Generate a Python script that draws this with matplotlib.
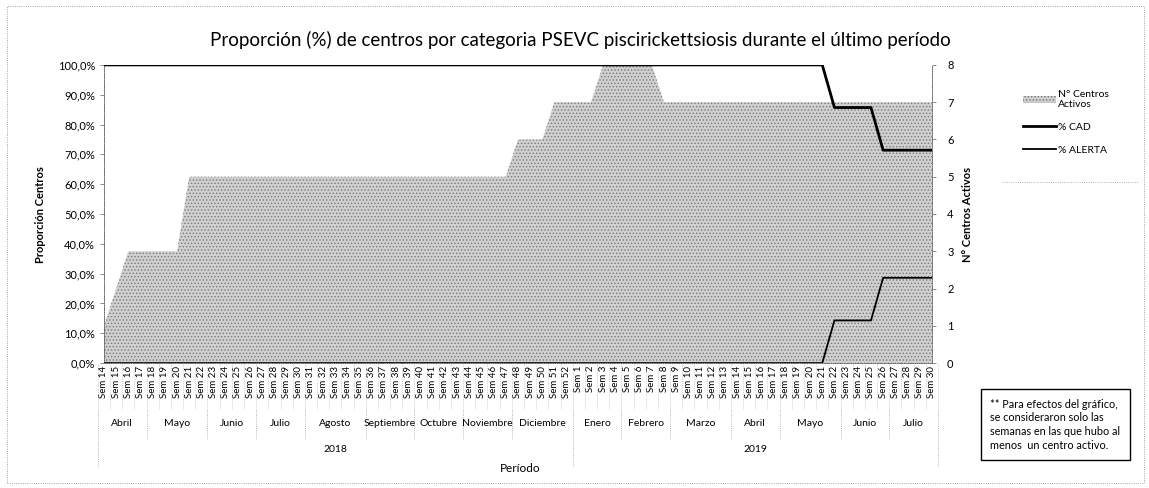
import matplotlib.pyplot as plt
import matplotlib.transforms as mtransforms
from matplotlib.patches import Rectangle, Patch
from matplotlib.lines import Line2D

plt.rcParams['font.family'] = ['Lato', 'DejaVu Sans']
plt.rcParams['hatch.linewidth'] = 0.6

# datos: semanas con al menos un centro activo
semanas_2018 = [14, 15, 16, 17, 18, 19, 20, 21, 22, 23, 24, 25, 26, 27, 28, 29, 30,
                31, 32, 33, 34, 35, 36, 37, 38, 39, 40, 41, 42, 43, 44, 45, 46, 47,
                48, 49, 50, 51, 52]
semanas_2019 = [1, 2, 3, 4, 5, 6, 7, 8, 9, 10, 11, 12, 13, 14, 15, 16, 17, 18, 19,
                20, 21, 22, 23, 24, 25, 26, 27, 28, 29, 30]
meses_2018 = ['Abril', 'Mayo', 'Junio', 'Julio', 'Agosto', 'Septiembre', 'Octubre',
              'Noviembre', 'Diciembre']
semanas_por_mes_2018 = [4, 5, 4, 4, 5, 4, 4, 4, 5]
meses_2019 = ['Enero', 'Febrero', 'Marzo', 'Abril', 'Mayo', 'Junio', 'Julio']
semanas_por_mes_2019 = [4, 4, 5, 4, 5, 4, 4]

centros_activos = [1, 2, 3, 3, 3, 3, 3, 5, 5, 5, 5, 5, 5, 5, 5, 5, 5, 5, 5, 5, 5, 5, 5,
                   5, 5, 5, 5, 5, 5, 5, 5, 5, 5, 5, 6, 6, 6, 7, 7, 7, 7, 8, 8, 8, 8, 8,
                   7, 7, 7, 7, 7, 7, 7, 7, 7, 7, 7, 7, 7, 7, 7, 7, 7, 7, 7, 7, 7, 7, 7]
pct_cad = [100, 100, 100, 100, 100, 100, 100, 100, 100, 100, 100, 100, 100, 100, 100,
           100, 100, 100, 100, 100, 100, 100, 100, 100, 100, 100, 100, 100, 100, 100,
           100, 100, 100, 100, 100, 100, 100, 100, 100, 100, 100, 100, 100, 100, 100,
           100, 100, 100, 100, 100, 100, 100, 100, 100, 100, 100, 100, 100, 100, 100,
           85.7, 85.7, 85.7, 85.7, 71.4, 71.4, 71.4, 71.4, 71.4]
pct_alerta = [0, 0, 0, 0, 0, 0, 0, 0, 0, 0, 0, 0, 0, 0, 0, 0, 0, 0, 0, 0, 0, 0, 0, 0,
              0, 0, 0, 0, 0, 0, 0, 0, 0, 0, 0, 0, 0, 0, 0, 0, 0, 0, 0, 0, 0, 0, 0, 0,
              0, 0, 0, 0, 0, 0, 0, 0, 0, 0, 0, 0,
              14.3, 14.3, 14.3, 14.3, 28.6, 28.6, 28.6, 28.6, 28.6]

etiquetas = [f'Sem {s}' for s in semanas_2018 + semanas_2019]
x = list(range(len(etiquetas)))

fig = plt.figure(figsize=(11.49, 4.88), dpi=100)
ax = fig.add_axes([0.0905, 0.256, 0.7205, 0.611])
ax2 = ax.twinx()

# area de centros activos (eje derecho)
ax2.fill_between(x, centros_activos, 0, facecolor='#d0d0d0', hatch='.....',
                 edgecolor='#777777', linewidth=0)
ax2.set_ylim(0, 8)
ax2.set_yticks(range(0, 9))
ax2.tick_params(axis='y', labelsize=8, length=3, width=0.6, color='#777777', pad=8)

# lineas de proporcion (eje izquierdo) sobre el area
ax.set_zorder(ax2.get_zorder() + 1)
ax.patch.set_visible(False)
ax.plot(x, pct_cad, color='black', linewidth=2.0)
ax.plot(x, pct_alerta, color='black', linewidth=1.3)
ax.set_ylim(0, 100)
ax.set_xlim(0, len(x) - 1)
ax.set_yticks(range(0, 101, 10))
ax.set_yticklabels([f'{v},0%' for v in range(0, 101, 10)])
ax.tick_params(axis='y', labelsize=8, length=3, width=0.6, color='#777777')
ax.set_xticks(x)
ax.set_xticklabels(etiquetas, rotation=90, fontsize=7)
ax.tick_params(axis='x', length=0, pad=2)

for a in (ax, ax2):
    a.spines['top'].set_visible(False)
    for s in ('left', 'right', 'bottom'):
        a.spines[s].set_linewidth(0.6)
        a.spines[s].set_color('#666666')
        a.spines[s].set_linestyle(':')

# eje de categorias multinivel
tr = mtransforms.blended_transform_factory(ax.transData, fig.transFigure)
for i in range(len(x) + 1):
    ax.plot([i - 0.5, i - 0.5], [0.255, 0.16], transform=tr, color='#aaaaaa',
            lw=0.5, ls=':', clip_on=False)

inicio = 0
for meses, cuentas, anio in ((meses_2018, semanas_por_mes_2018, '2018'),
                             (meses_2019, semanas_por_mes_2019, '2019')):
    inicio_anio = inicio
    for mes, n in zip(meses, cuentas):
        fin = inicio + n - 1
        fig.text((inicio + fin) / 2, 0.133, mes, transform=tr, fontsize=7.5,
                 ha='center', va='center')
        ax.plot([fin + 0.5, fin + 0.5], [0.16, 0.1], transform=tr, color='#999999',
                lw=0.6, ls=':', clip_on=False)
        inicio = fin + 1
    fig.text((inicio_anio + inicio - 1) / 2, 0.078, anio, transform=tr,
             fontsize=7.5, ha='center', va='center')
    ax.plot([inicio - 0.5, inicio - 0.5], [0.1, 0.045], transform=tr, color='#999999',
            lw=0.6, ls=':', clip_on=False)
ax.plot([-0.5, -0.5], [0.16, 0.045], transform=tr, color='#999999',
        lw=0.6, ls=':', clip_on=False)

fig.text(0.505, 0.918, 'Proporción (%) de centros por categoria PSEVC piscirickettsiosis '
         'durante el último período', ha='center', va='center', fontsize=13.5)
fig.text(0.035, 0.56, 'Proporción Centros', rotation=90, ha='center', va='center',
         fontsize=8, fontweight='bold')
fig.text(0.842, 0.56, 'N° Centros Activos', rotation=90, ha='center', va='center',
         fontsize=8, fontweight='bold')
fig.text(0.453, 0.04, 'Período', ha='center', va='center', fontsize=8.5)

# leyenda
handles = [Patch(facecolor='#d0d0d0', hatch='.....', edgecolor='#777777', linewidth=0),
           Line2D([], [], color='black', lw=2.0),
           Line2D([], [], color='black', lw=1.3)]
leg = fig.legend(handles, ['N° Centros\nActivos', '% CAD', '% ALERTA'],
                 loc='upper left', bbox_to_anchor=(0.882, 0.835), frameon=False,
                 fontsize=7.5, handlelength=3.2, labelspacing=1.3, handletextpad=0.2)
fig.add_artist(Line2D([0.872, 0.99], [0.627, 0.627], color='#999999', lw=0.6, ls=':'))

# nota
fig.text(0.862, 0.13, '** Para efectos del gráfico,\nse consideraron solo las\n'
         'semanas en las que hubo al\nmenos  un centro activo.',
         fontsize=7.8, ha='left', va='center', linespacing=1.3,
         bbox=dict(boxstyle='square,pad=0.9', facecolor='white', edgecolor='black', lw=1))

# borde del grafico
fig.add_artist(Rectangle((0.006, 0.01), 0.99, 0.978, transform=fig.transFigure,
                         fill=False, ls=':', lw=0.6, color='#888888'))

fig.savefig('out.png', dpi=100)
